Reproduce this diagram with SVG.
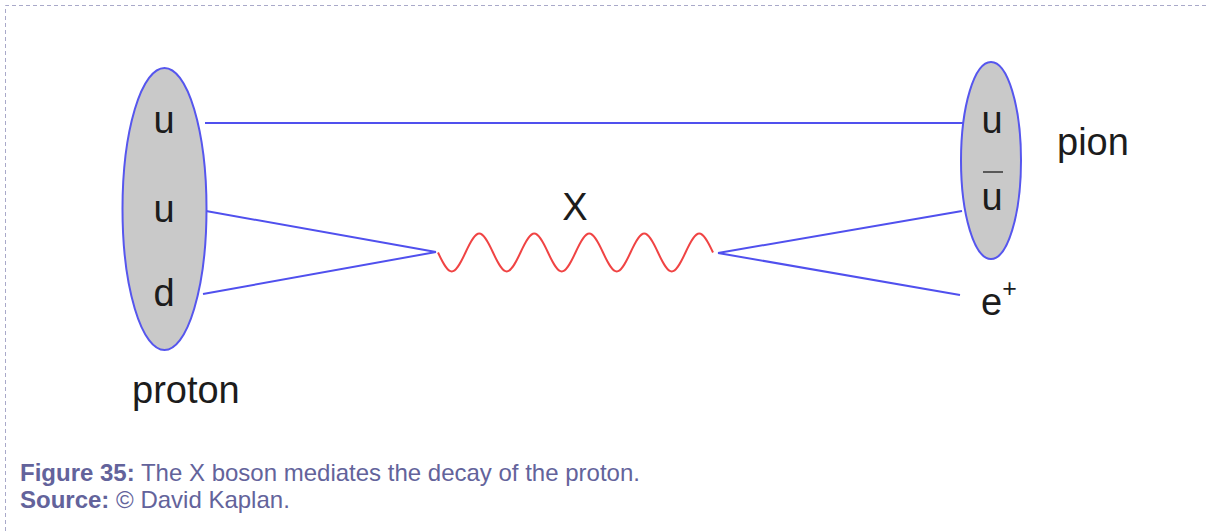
<svg xmlns="http://www.w3.org/2000/svg" width="1209" height="531" viewBox="0 0 1209 531">
<style>
.lbl{font-family:"Liberation Sans",Arial,sans-serif;font-size:38px;fill:#1c1c1c}
.q{text-anchor:middle}
.hadron{fill:#c9c9c9;stroke:#5656ee;stroke-width:2}
.fermion{fill:none;stroke:#5050ee;stroke-width:2}
.boson{fill:none;stroke:#f04444;stroke-width:2}
.cap{font-family:"Liberation Sans",Arial,sans-serif;font-size:24px;fill:#63639b}
.frame{fill:none;stroke:#a9a9c9;stroke-width:1;stroke-dasharray:4,3}
</style>
<rect width="1209" height="531" fill="#ffffff"/>
<path class="frame" d="M5.5,531 V5.5 H1209"/>
<g id="connectors">
<line class="fermion" x1="205" y1="123" x2="963" y2="123"/>
<line class="fermion" x1="206" y1="211" x2="436" y2="252"/>
<line class="fermion" x1="203" y1="294" x2="436" y2="252"/>
<line class="fermion" x1="718" y1="253" x2="962" y2="211"/>
<line class="fermion" x1="718" y1="253" x2="960" y2="295"/>
<path class="boson" d="M438,252.5 c11.67,25.3 15.83,25.3 27.5,0 s15.83,-25.3 27.5,0 s15.83,25.3 27.5,0 s15.83,-25.3 27.5,0 s15.83,25.3 27.5,0 s15.83,-25.3 27.5,0 s15.83,25.3 27.5,0 s15.83,-25.3 27.5,0 s15.83,25.3 27.5,0 s15.83,-25.3 27.5,0"/>
<text class="lbl q" x="575" y="220">X</text>
</g>
<g id="proton">
<ellipse class="hadron" cx="164.5" cy="209" rx="42" ry="141"/>
<text class="lbl q" x="164" y="133">u</text>
<text class="lbl q" x="164" y="222">u</text>
<text class="lbl q" x="164" y="306">d</text>
<text class="lbl" x="132" y="403">proton</text>
</g>
<g id="pion">
<ellipse class="hadron" cx="991" cy="160.5" rx="30" ry="98.5"/>
<text class="lbl q" x="992" y="133">u</text>
<line x1="983" y1="172" x2="1003" y2="172" stroke="#333" stroke-width="1.5"/>
<text class="lbl q" x="992" y="210">u</text>
<text class="lbl" x="1057" y="155">pion</text>
</g>
<g id="positron">
<text class="lbl" x="981" y="315">e<tspan font-size="25" dy="-18">+</tspan></text>
</g>
<g id="caption">
<text class="cap" x="20" y="481"><tspan font-weight="bold">Figure 35:</tspan> The X boson mediates the decay of the proton.</text>
<text class="cap" x="20" y="508"><tspan font-weight="bold">Source:</tspan> © David Kaplan.</text>
</g>
</svg>
